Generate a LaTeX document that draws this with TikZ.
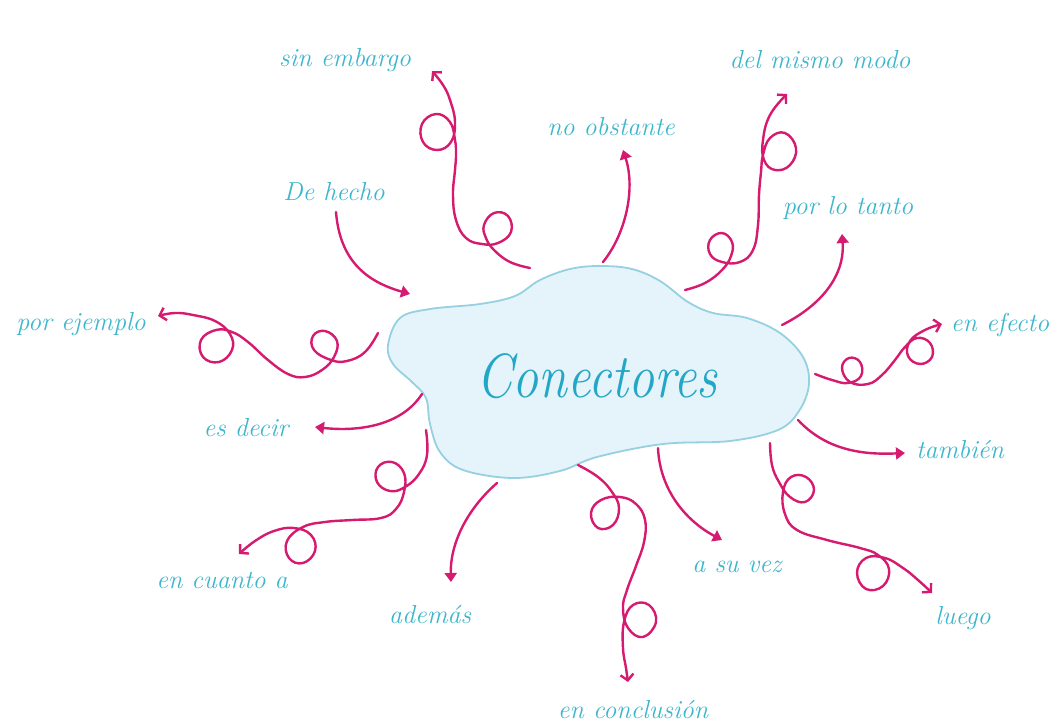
\documentclass[tikz,border=0pt]{standalone}
\usepackage{graphicx}
\usetikzlibrary{arrows.meta}
\definecolor{mag}{RGB}{214,26,112}
\definecolor{txt}{RGB}{60,182,204}
\definecolor{titlecol}{RGB}{36,166,198}
\definecolor{cloudfill}{RGB}{228,244,250}
\definecolor{cloudline}{RGB}{150,208,225}
\begin{document}
\begin{tikzpicture}[x=1pt,y=-1pt,
  lbl/.style={text=txt,font=\fontsize{26}{30}\selectfont\itshape,inner sep=0pt},
  title/.style={text=titlecol,font=\fontsize{52}{60}\selectfont\itshape,inner sep=0pt},
  wig/.style={draw=mag,line width=2.4pt,line cap=round,line join=round},
  opentip/.style={wig,-{Straight Barb[length=6pt,width=13pt]}},
  filltip/.style={wig,-{Triangle[length=9pt,width=12pt]}},
  cloud/.style={draw=cloudline,fill=cloudfill,line width=1.8pt}]
\path[use as bounding box,fill=white] (0,0) rectangle (1058,728);

% cloud
\draw[cloud] plot[smooth cycle,tension=0.6] coordinates {
 (388,345) (400,318) (430,309) (480,304) (515,296) (540,280) (570,269) (600,266)
 (632,269) (660,281) (688,302) (713,313) (747,318) (780,333) (803,357) (809,384)
 (799,411) (778,430) (730,441) (663,444) (597,457) (560,471) (513,478) (463,470)
 (440,452) (430,424) (426,398) (412,382) (393,364)};
\node[title] (center) at (597,376) {\scalebox{1}[1.2]{Conectores}};

% labels
\node[lbl] (sinembargo) at (345,60) {sin embargo};
\node[lbl] (dehecho) at (334,192) {De hecho};
\node[lbl] (noobstante) at (611,127) {no obstante};
\node[lbl] (delmismo) at (820,60) {del mismo modo};
\node[lbl] (porlotanto) at (848,208) {por lo tanto};
\node[lbl] (porejemplo) at (81,324) {por ejemplo};
\node[lbl] (esdecir) at (246,428) {es decir};
\node[lbl] (encuanto) at (222,580) {en cuanto a};
\node[lbl] (ademas) at (430,615) {además};
\node[lbl] (enconclusion) at (633,710) {en conclusión};
\node[lbl] (asuvez) at (737,567) {a su vez};
\node[lbl] (enefecto) at (1000,325) {en efecto};
\node[lbl] (tambien) at (960,450) {también};
\node[lbl] (luego) at (963,618) {luego};

% connector end points
\coordinate (s1) at (530,268);  \coordinate (e1) at (432,71);
\coordinate (s2) at (336,212);  \coordinate (e2) at (410,294);
\coordinate (s3) at (603,262);  \coordinate (e3) at (623,150);
\coordinate (s4) at (685,290);  \coordinate (e4) at (787,94);
\coordinate (s5) at (782,325);  \coordinate (e5) at (842,234);
\coordinate (s6) at (378,333);  \coordinate (e6) at (158,316);
\coordinate (s7) at (422,394);  \coordinate (e7) at (315,427);
\coordinate (s8) at (426,430);  \coordinate (e8) at (239,554);
\coordinate (s9) at (497,483);  \coordinate (e9) at (451,582);
\coordinate (s10) at (578,465); \coordinate (e10) at (628,682);
\coordinate (s11) at (658,448); \coordinate (e11) at (722,540);
\coordinate (s12) at (815,374); \coordinate (e12) at (942,324);
\coordinate (s13) at (798,420); \coordinate (e13) at (905,453);
\coordinate (s14) at (770,443); \coordinate (e14) at (932,593);

% loopy connectors (open tips)
\draw[opentip] plot[smooth,tension=0.72] coordinates {(s1) (510,262) (494,250) (486,238)
 (484,225) (494,213) (508,216) (511,232) (498,243) (482,244) (466,238) (456,220) (453,195)
 (455,170) (456,155) (455,140) (450,122) (436,114) (422,124) (423,142) (437,150) (451,142)
 (455,122) (450,100) (443,85) (e1)};
\draw[opentip] plot[smooth,tension=0.72] coordinates {(s4) (705,283) (722,270) (731,256)
 (732,242) (722,233) (710,240) (710,254) (722,262) (740,262) (753,250) (758,225) (759,195)
 (761,172) (763,155) (770,138) (785,133) (796,148) (790,165) (775,170) (764,160) (763,140)
 (770,115) (e4)};
\draw[opentip] plot[smooth,tension=0.72] coordinates {(s6) (365,352) (347,361) (331,360)
 (314,350) (313,336) (325,331) (337,341) (334,357) (322,370) (305,377) (288,374) (268,360)
 (248,342) (232,332) (216,330) (201,340) (203,357) (219,362) (232,350) (230,334) (215,321)
 (193,315) (175,313) (e6)};
\draw[opentip] plot[smooth,tension=0.72] coordinates {(s8) (427,455) (419,474) (405,487)
 (390,491) (377,482) (378,467) (392,462) (404,473) (404,492) (396,509) (381,518) (352,520)
 (325,522) (303,527) (287,541) (289,558) (303,563) (315,551) (311,535) (294,528) (274,531)
 (255,541) (e8)};
\draw[opentip] plot[smooth,tension=0.72] coordinates {(s10) (598,477) (612,492) (619,508)
 (613,525) (598,528) (591,513) (601,500) (620,497) (636,504) (645,520) (644,542) (636,566)
 (627,590) (623,608) (628,628) (643,637) (656,622) (649,605) (633,605) (624,622) (623,648)
 (626,668) (e10)};
\draw[opentip] plot[smooth,tension=0.72] coordinates {(s12) (832,380) (848,383) (861,376)
 (860,362) (849,358) (842,368) (850,382) (868,384) (882,375) (895,360) (905,347) (917,338)
 (930,343) (932,357) (920,364) (908,356) (910,341) (925,330) (e12)};
\draw[opentip] plot[smooth,tension=0.72] coordinates {(s14) (772,465) (779,482) (790,497)
 (805,502) (814,490) (806,477) (791,477) (783,492) (785,514) (797,530) (827,540) (860,548)
 (878,555) (889,569) (883,586) (866,589) (857,573) (866,558) (885,558) (903,568) (918,580)
 (e14)};

% simple connectors (filled tips)
\draw[filltip] (s2) .. controls (340,262) and (368,282) .. (e2);
\draw[filltip] (s3) .. controls (625,235) and (636,190) .. (e3);
\draw[filltip] (s5) .. controls (822,305) and (845,275) .. (e5);
\draw[filltip] (s7) .. controls (402,425) and (360,432) .. (e7);
\draw[filltip] (s9) .. controls (466,510) and (450,545) .. (e9);
\draw[filltip] (s11) .. controls (660,492) and (688,522) .. (e11);
\draw[filltip] (s13) .. controls (826,450) and (862,455) .. (e13);
\end{tikzpicture}
\end{document}
